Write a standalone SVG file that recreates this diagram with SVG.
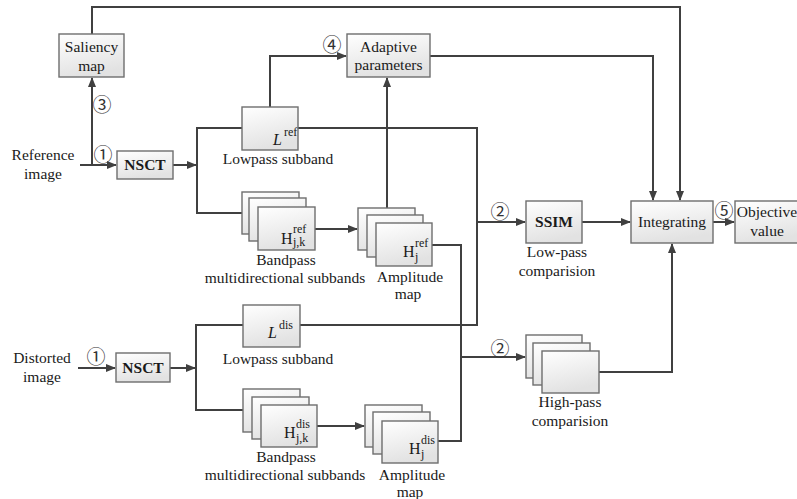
<svg xmlns="http://www.w3.org/2000/svg" width="797" height="499" viewBox="0 0 797 499" font-family="Liberation Serif, Times New Roman, serif">
<defs>
<linearGradient id="g" x1="0" y1="0" x2="0.3" y2="1">
<stop offset="0" stop-color="#ffffff"/>
<stop offset="1" stop-color="#e2e2e2"/>
</linearGradient>
<marker id="a" markerWidth="10" markerHeight="8" refX="9" refY="4" orient="auto" markerUnits="userSpaceOnUse">
<path d="M0,0 L10,4 L0,8 Z" fill="#404040"/>
</marker>
</defs>
<style>
.b{fill:url(#g);stroke:#6e6e6e;stroke-width:1.4}
text{fill:#1a1a1a}
.t{font-size:15.5px;text-anchor:middle}
.bd{font-weight:bold}
.s{font-size:12px}
.h{font-size:16px}
.c{font-size:19px;fill:#333;text-anchor:middle;dominant-baseline:central}
.l{fill:none;stroke:#404040;stroke-width:2}
.ar{marker-end:url(#a)}
</style>
<rect width="797" height="499" fill="#fff"/>
<g id="connectors">
<path class="l ar" d="M92,34 V7 H680 V200"/>
<path class="l ar" d="M80,165 H116"/>
<path class="l ar" d="M92,165 V78"/>
<path class="l ar" d="M173,165 H196"/>
<path class="l" d="M242,128 H197 V213 H242"/>
<path class="l ar" d="M270,107 V56 H346"/>
<path class="l ar" d="M430,56 H653 V200"/>
<path class="l" d="M298,128 H477 V325 H300"/>
<path class="l ar" d="M477,222 H525"/>
<path class="l ar" d="M387,208 V78"/>
<path class="l ar" d="M315,229 H357"/>
<path class="l" d="M432,245 H461 V441 H438"/>
<path class="l ar" d="M461,357 H525"/>
<path class="l ar" d="M582,222 H630"/>
<path class="l ar" d="M713,222 H734"/>
<path class="l ar" d="M599,372 H672 V244"/>
<path class="l ar" d="M78,368 H115"/>
<path class="l ar" d="M170,368 H195"/>
<path class="l" d="M243,325 H196 V410 H243"/>
<path class="l ar" d="M317,426 H364"/>
</g>
<g id="labels-circled" font-family="Noto Sans CJK SC, DejaVu Sans, sans-serif">
<text class="c" x="102" y="103">③</text>
<text class="c" x="103" y="153">①</text>
<text class="c" x="332" y="43">④</text>
<text class="c" x="500" y="210">②</text>
<text class="c" x="724" y="209">⑤</text>
<text class="c" x="96" y="355">①</text>
<text class="c" x="500" y="347">②</text>
</g>
<g id="reference-image">
<text class="t" x="43" y="160">Reference</text>
<text class="t" x="43" y="179">image</text>
</g>
<g id="distorted-image">
<text class="t" x="42" y="363">Distorted</text>
<text class="t" x="42" y="382">image</text>
</g>
<g id="saliency-map">
<rect class="b" x="59" y="34" width="65" height="43"/>
<text class="t" x="91.5" y="52">Saliency</text>
<text class="t" x="91.5" y="71">map</text>
</g>
<g id="nsct-ref">
<rect class="b" x="117" y="151" width="56" height="28"/>
<text class="t bd" x="145" y="170">NSCT</text>
</g>
<g id="nsct-dis">
<rect class="b" x="116" y="353" width="54" height="29"/>
<text class="t bd" x="143" y="373">NSCT</text>
</g>
<g id="adaptive-parameters">
<rect class="b" x="347" y="34" width="83" height="43"/>
<text class="t" x="388.5" y="52">Adaptive</text>
<text class="t" x="388.5" y="70">parameters</text>
</g>
<g id="lowpass-ref">
<rect class="b" x="242" y="107" width="56" height="43"/>
<text class="h" x="273" y="145" font-style="italic">L</text>
<text class="s" x="284" y="136">ref</text>
<text class="t" x="278" y="164">Lowpass subband</text>
</g>
<g id="lowpass-dis">
<rect class="b" x="243" y="305" width="57" height="42"/>
<text class="h" x="268" y="338" font-style="italic">L</text>
<text class="s" x="279" y="329">dis</text>
<text class="t" x="278" y="364">Lowpass subband</text>
</g>
<g id="bandpass-ref">
<rect class="b" x="242" y="192" width="57" height="42"/>
<rect class="b" x="249" y="198" width="57" height="43"/>
<rect class="b" x="258" y="207" width="57" height="43"/>
<text class="h" x="281" y="244">H</text>
<text class="s" x="293" y="233">ref</text>
<text class="s" x="293" y="246">j,k</text>
<text class="t" x="286" y="265">Bandpass</text>
<text class="t" x="285" y="283">multidirectional subbands</text>
</g>
<g id="bandpass-dis">
<rect class="b" x="243" y="389" width="57" height="43"/>
<rect class="b" x="252" y="397" width="57" height="42"/>
<rect class="b" x="261" y="405" width="56" height="42"/>
<text class="h" x="284" y="438">H</text>
<text class="s" x="296" y="428">dis</text>
<text class="s" x="296" y="442">j,k</text>
<text class="t" x="286" y="462">Bandpass</text>
<text class="t" x="285" y="480">multidirectional subbands</text>
</g>
<g id="amplitude-ref">
<rect class="b" x="358" y="208" width="57" height="42"/>
<rect class="b" x="367" y="215" width="56" height="42"/>
<rect class="b" x="376" y="223" width="56" height="43"/>
<text class="h" x="403" y="257">H</text>
<text class="s" x="415" y="247">ref</text>
<text class="s" x="415" y="261">j</text>
<text class="t" x="410" y="282">Amplitude</text>
<text class="t" x="408" y="299">map</text>
</g>
<g id="amplitude-dis">
<rect class="b" x="365" y="405" width="57" height="42"/>
<rect class="b" x="373" y="412" width="57" height="42"/>
<rect class="b" x="382" y="421" width="56" height="42"/>
<text class="h" x="409" y="454">H</text>
<text class="s" x="421" y="444">dis</text>
<text class="s" x="421" y="458">j</text>
<text class="t" x="412" y="480">Amplitude</text>
<text class="t" x="410" y="497">map</text>
</g>
<g id="ssim">
<rect class="b" x="526" y="201" width="56" height="42"/>
<text class="t bd" x="554" y="227">SSIM</text>
<text class="t" x="557" y="257">Low-pass</text>
<text class="t" x="557" y="276">comparision</text>
</g>
<g id="high-pass">
<rect class="b" x="526" y="335" width="56" height="43"/>
<rect class="b" x="533" y="343" width="57" height="42"/>
<rect class="b" x="542" y="351" width="57" height="42"/>
<text class="t" x="570" y="407">High-pass</text>
<text class="t" x="570" y="426">comparision</text>
</g>
<g id="integrating">
<rect class="b" x="631" y="201" width="82" height="42"/>
<text class="t" x="672" y="227">Integrating</text>
</g>
<g id="objective-value">
<rect class="b" x="735" y="201" width="68" height="42"/>
<text class="t" x="767" y="217" font-size="15px">Objective</text>
<text class="t" x="767" y="236">value</text>
</g>
</svg>
